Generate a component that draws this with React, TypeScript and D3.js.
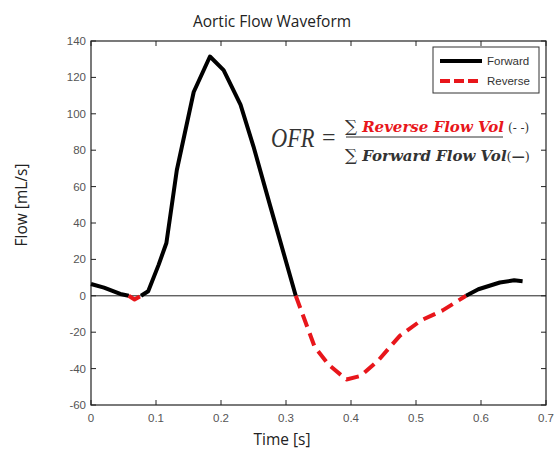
import React from 'react';
import * as d3 from 'd3';

// Aortic flow waveform
const timeS = [0, 0.02, 0.045, 0.058, 0.067, 0.077, 0.088, 0.104, 0.116, 0.132, 0.158, 0.183, 0.204, 0.23, 0.25, 0.276, 0.315,
  0.344, 0.366, 0.393, 0.415, 0.442, 0.475, 0.508, 0.541, 0.577, 0.596, 0.629, 0.651, 0.664];
const flowMlS = [6.5, 4.5, 1, 0, -2, 0, 2.5, 17, 29, 69, 112, 131.5, 124, 105, 82, 49, 0,
  -28, -38, -46, -44, -35.5, -22, -13.5, -8, 0, 3.6, 7.3, 8.5, 8];
const xTicks = [0, 0.1, 0.2, 0.3, 0.4, 0.5, 0.6, 0.7];
const yTicks = [-60, -40, -20, 0, 20, 40, 60, 80, 100, 120, 140];
const legendItems = ['Forward', 'Reverse'];

const W = 559;
const H = 449;
const plot = { left: 91, right: 546, top: 41, bottom: 405 };

type Pt = { t: number; v: number };

// split into runs of forward (>=0) and reverse (<0) flow
const buildRuns = () => {
  const pts: Pt[] = timeS.map((t, i) => ({ t, v: flowMlS[i] }));
  const runs: { reverse: boolean; pts: Pt[] }[] = [];
  let cur: { reverse: boolean; pts: Pt[] } | null = null;
  for (let i = 0; i < pts.length - 1; i++) {
    const a = pts[i];
    const b = pts[i + 1];
    const reverse = a.v < 0 || b.v < 0;
    if (!cur || cur.reverse !== reverse) {
      cur = { reverse, pts: [a] };
      runs.push(cur);
    }
    cur.pts.push(b);
  }
  return runs;
};

const App = () => {
  const x = d3.scaleLinear().domain([0, 0.7]).range([plot.left, plot.right]);
  const y = d3.scaleLinear().domain([-60, 140]).range([plot.bottom, plot.top]);
  const line = d3.line<Pt>().x(d => x(d.t)).y(d => y(d.v));
  const runs = buildRuns();
  const tickFont = { fontFamily: '"Liberation Sans", Arial, sans-serif', fontSize: 11.5, fill: '#555' };
  const tl = 5;

  return (
    <svg width={W} height={H} style={{ position: 'absolute', left: 0, top: 0, background: '#fff' }}>
      <rect x={0} y={0} width={W} height={H} fill="#fff" />
      <text x={272} y={27} textAnchor="middle" fontFamily='"Open Sans", sans-serif' fontSize={15.5} fill="#222">
        Aortic Flow Waveform
      </text>

      {/* zero line */}
      <line x1={plot.left} x2={plot.right} y1={y(0)} y2={y(0)} stroke="#222" strokeWidth={1} />

      {/* ticks, MATLAB style inward on all four sides */}
      {xTicks.map(t => (
        <g key={'x' + t}>
          <line x1={x(t)} x2={x(t)} y1={plot.bottom} y2={plot.bottom - tl} stroke="#222" />
          <line x1={x(t)} x2={x(t)} y1={plot.top} y2={plot.top + tl} stroke="#222" />
          <text x={x(t)} y={plot.bottom + 17} textAnchor="middle" {...tickFont}>{t === 0 ? '0' : String(t)}</text>
        </g>
      ))}
      {yTicks.map(v => (
        <g key={'y' + v}>
          <line x1={plot.left} x2={plot.left + tl} y1={y(v)} y2={y(v)} stroke="#222" />
          <line x1={plot.right} x2={plot.right - tl} y1={y(v)} y2={y(v)} stroke="#222" />
          <text x={plot.left - 5} y={y(v) + 4} textAnchor="end" {...tickFont}>{v}</text>
        </g>
      ))}
      <rect x={plot.left} y={plot.top} width={plot.right - plot.left} height={plot.bottom - plot.top}
        fill="none" stroke="#222" strokeWidth={1.2} />

      {/* waveform */}
      {runs.map((r, i) => (
        <path key={i} d={line(r.pts) || ''} fill="none"
          stroke={r.reverse ? '#e8161b' : '#000'} strokeWidth={4}
          strokeDasharray={r.reverse ? '13,7' : undefined} strokeLinejoin="round" />
      ))}

      {/* legend */}
      <rect x={433} y={47} width={106} height={46} fill="#fff" stroke="#333" strokeWidth={1} />
      {legendItems.map((name, i) => {
        const ly = 61 + i * 20;
        return (
          <g key={name}>
            <line x1={440} x2={482} y1={ly} y2={ly} stroke={i === 0 ? '#000' : '#e8161b'} strokeWidth={4}
              strokeDasharray={i === 0 ? undefined : '10,4'} />
            <text x={487} y={ly + 4} fontFamily='"Liberation Sans", Arial, sans-serif' fontSize={11.5} fill="#333">{name}</text>
          </g>
        );
      })}

      {/* formula */}
      <g fontFamily='"Liberation Serif", "DejaVu Serif", serif' fill="#333">
        <text transform="translate(271,147) scale(0.8,1)" fontStyle="italic" fontSize={28}>OFR</text>
        <text x={322} y={145} fontSize={24}>=</text>
      </g>
      <g fontFamily='"DejaVu Serif", "Liberation Serif", serif' fill="#333">
        <text x={345} y={132}>
          <tspan fontSize={17}>∑</tspan>
          <tspan dx={5} fontStyle="italic" fontWeight="bold" fontSize={15} fill="#e8161b">Reverse Flow Vol</tspan>
          <tspan dx={4} fontSize={12}>(- -)</tspan>
        </text>
        <line x1={346} x2={503} y1={137} y2={137} stroke="#333" strokeWidth={1} />
        <text x={345} y={161}>
          <tspan fontSize={17}>∑</tspan>
          <tspan dx={5} fontStyle="italic" fontWeight="bold" fontSize={15}>Forward Flow Vol</tspan>
          <tspan fontSize={13}>(</tspan>
          <tspan fontSize={13} fontWeight="bold">—</tspan>
          <tspan fontSize={13}>)</tspan>
        </text>
      </g>

      {/* axis labels */}
      <text x={282} y={445} textAnchor="middle" fontFamily='"Open Sans", sans-serif' fontSize={15.5} fill="#222">Time [s]</text>
      <text transform="translate(27,205) rotate(-90)" textAnchor="middle" fontFamily='"Open Sans", sans-serif'
        fontSize={15.5} fill="#222">Flow [mL/s]</text>
    </svg>
  );
};

export default App;
